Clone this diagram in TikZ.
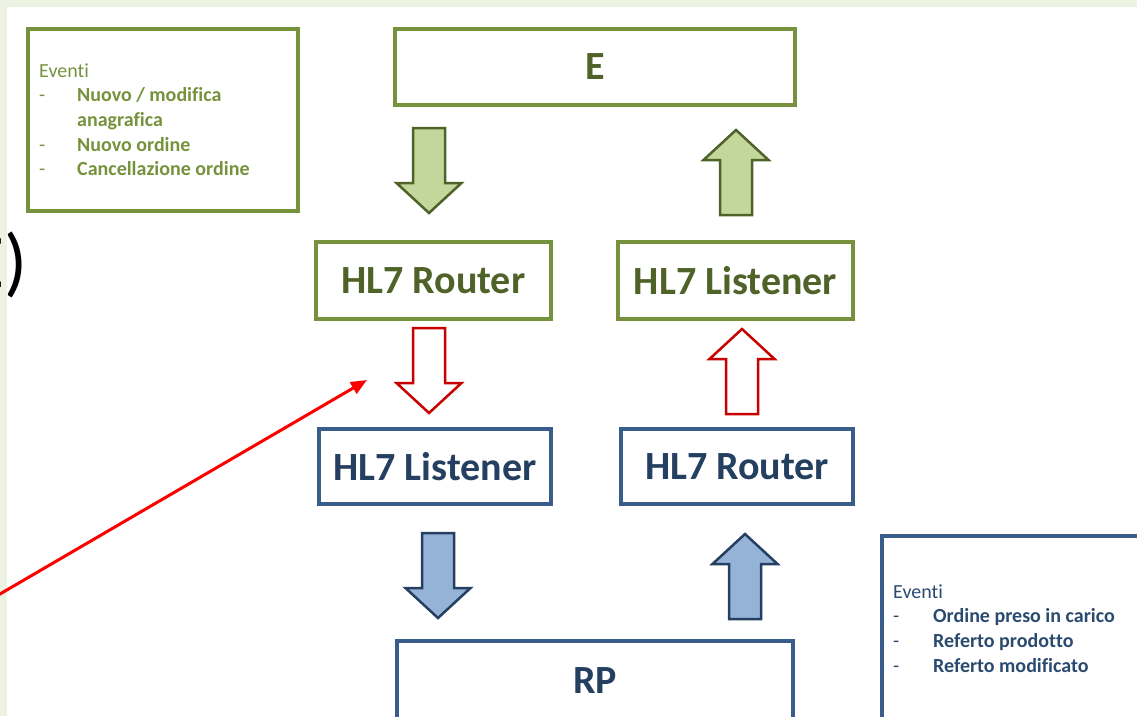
\documentclass[tikz,border=0pt]{standalone}
\usepackage{fontspec}
\setmainfont{Carlito}[Ligatures={NoCommon}]
\usetikzlibrary{arrows.meta}

\definecolor{strip}{HTML}{EEF2E2}
\definecolor{olivebord}{HTML}{76923C}
\definecolor{olivedark}{HTML}{4F6228}
\definecolor{olivefill}{HTML}{C3D69B}
\definecolor{bluebord}{HTML}{385D8A}
\definecolor{bluedark}{HTML}{243F60}
\definecolor{bluefill}{HTML}{95B3D7}
\definecolor{bluetext}{HTML}{2B4A70}
\definecolor{darkred}{HTML}{C80000}

\tikzset{
  box/.style={draw, line width=4pt, fill=white, inner sep=0pt,
    font=\bfseries\fontsize{40}{48}\selectfont},
  greenbox/.style={box, draw=olivebord, text=olivedark},
  bluebox/.style={box, draw=bluebord, text=bluedark},
  eventbox/.style={draw, line width=4pt, fill=white, inner sep=0pt, outer sep=0pt, anchor=north west},
  eventtext/.style={anchor=base west, inner sep=0pt, font=\fontsize{20}{24.7}\selectfont},
  greenarrow/.style={draw=olivedark, fill=olivefill, line width=2.5pt},
  bluearrow/.style={draw=bluedark, fill=bluefill, line width=2.5pt},
  redarrow/.style={draw=darkred, fill=white, line width=2.5pt},
  pointer/.style={draw=red, line width=3pt, -{Triangle[length=16pt,width=13pt]}},
  pics/blockarrow/.style={code={
    \draw[pic actions] (-16,0) -- (16,0) -- (16,55) -- (32.5,55) -- (0,85)
      -- (-32.5,55) -- (-16,55) -- cycle;
  }},
}

\begin{document}
\begin{tikzpicture}[x=1pt,y=-1pt]
\useasboundingbox (0,0) rectangle (1137,716);
\clip (0,0) rectangle (1137,716);
\fill[white] (0,0) rectangle (1137,716);
\fill[strip] (0,0) rectangle (1137,7);
\fill[strip] (0,0) rectangle (7,716);

% partly cut title text on the left margin
\node[anchor=base east, inner sep=0pt, font=\fontsize{76}{80}\selectfont] (side) at (28,287) {E)};

% event list of E
\node[eventbox, draw=olivebord, minimum width=270.5pt, minimum height=182pt] (evA) at (27.5,29) {};
\node[eventtext, text=olivebord] (evAtext) at (39,77) {\begin{tabular}[t]{@{}p{38pt}@{}l@{}}
\multicolumn{2}{@{}l@{}}{Event\kern0pt i}\\
-&\textbf{Nuovo / modifica}\\
 &\textbf{anagrafica}\\
-&\textbf{Nuovo ordine}\\
-&\textbf{Cancellazione ordine}
\end{tabular}};

% event list of RP
\node[eventbox, draw=bluebord, minimum width=300pt, minimum height=220pt] (evB) at (881.5,536) {};
\node[eventtext, text=bluetext] (evBtext) at (893,598) {\begin{tabular}[t]{@{}p{40pt}@{}l@{}}
\multicolumn{2}{@{}l@{}}{Event\kern0pt i}\\
-&\textbf{Ordine preso in carico}\\
-&\textbf{Referto prodot\kern0pt to}\\
-&\textbf{Referto modificato}
\end{tabular}};

% systems and interfaces
\node[greenbox, minimum width=400pt, minimum height=76.5pt] (E) at (595,66.75) {E};
\node[greenbox, minimum width=234.5pt, minimum height=77pt] (routerE) at (433.25,280.5) {HL7 Router};
\node[greenbox, minimum width=235pt, minimum height=77pt] (listenerE) at (735.5,280.5) {HL7 Listener};
\node[bluebox, minimum width=232pt, minimum height=75.5pt] (listenerRP) at (435,466.25) {HL7 Listener};
\node[bluebox, minimum width=232pt, minimum height=75.5pt] (routerRP) at (737,466.25) {HL7 Router};
\node[bluebox, minimum width=396pt, minimum height=80pt] (RP) at (595,681) {RP};

% message flow
\pic[greenarrow] at (429,128) {blockarrow};
\pic[greenarrow, rotate=180] at (736,215) {blockarrow};
\pic[redarrow] at (429,328) {blockarrow};
\pic[redarrow, rotate=180] at (742,414) {blockarrow};
\pic[bluearrow] at (438,533) {blockarrow};
\pic[bluearrow, rotate=180] at (745,619) {blockarrow};

% pointer to the E-to-RP hand-off
\coordinate (ptrStart) at (-10,599.8);
\coordinate (ptrEnd) at (367,380);
\draw[pointer] (ptrStart) -- (ptrEnd);
\end{tikzpicture}
\end{document}
